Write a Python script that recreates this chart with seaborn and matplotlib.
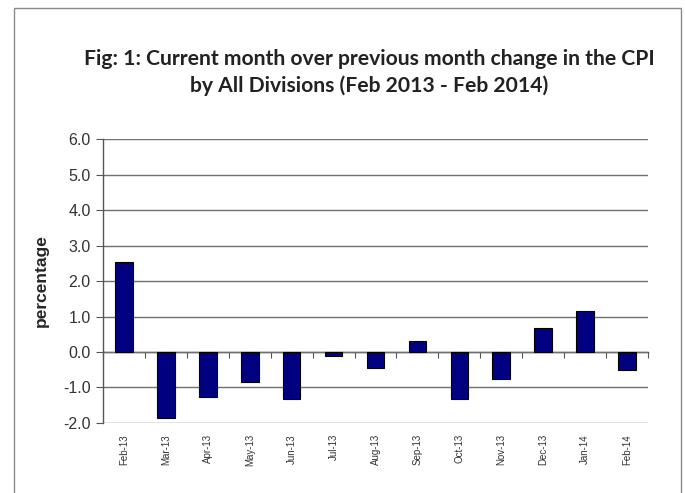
import matplotlib
matplotlib.use("Agg")
import matplotlib.pyplot as plt
import seaborn as sns
import pandas as pd
import numpy as np
from matplotlib.patches import Rectangle

months = ["Feb-13", "Mar-13", "Apr-13", "May-13", "Jun-13", "Jul-13", "Aug-13",
          "Sep-13", "Oct-13", "Nov-13", "Dec-13", "Jan-14", "Feb-14"]
change = [2.54, -1.85, -1.26, -0.85, -1.31, -0.10, -0.45,
          0.32, -1.31, -0.77, 0.69, 1.16, -0.50]
yticks = [-2.0, -1.0, 0.0, 1.0, 2.0, 3.0, 4.0, 5.0, 6.0]
title = "Fig: 1: Current month over previous month change in the CPI\nby All Divisions (Feb 2013 - Feb 2014)"

df = pd.DataFrame({"month": months, "change": change})

sns.set_style("white")
plt.rcParams["font.family"] = ["Liberation Sans", "DejaVu Sans"]

fig = plt.figure(figsize=(6.85, 4.93), dpi=100)
ax = fig.add_axes([0.1504, 0.142, 0.7956, 0.576])

sns.barplot(data=df, x="month", y="change", ax=ax, color="#000080",
            saturation=1, width=0.42, edgecolor="black", linewidth=0.8)

ax.set_ylim(-2.0, 6.0)
ax.set_xlim(-0.5, len(months) - 0.5)
ax.set_yticks(yticks)
ax.set_yticklabels([f"{v:.1f}" for v in yticks], fontsize=11.5, color="#333333")
ax.yaxis.grid(True, color="#707070", linewidth=1.0)
ax.set_axisbelow(True)
ax.tick_params(axis="y", which="major", length=5, width=0.8, color="#555555",
               direction="out", left=True, pad=4)

ax.set_xticks(range(len(months)))
ax.set_xticklabels(months, rotation=90, fontsize=7, color="#333333")
ax.tick_params(axis="x", length=0, pad=8)
ax.set_xlabel("")
ax.set_ylabel("percentage", fontsize=12.5, fontweight="bold", labelpad=10)

for s in ["top", "right", "bottom"]:
    ax.spines[s].set_visible(False)
ax.spines["left"].set_color("#555555")
ax.spines["left"].set_linewidth(1.0)

# category axis crossing at zero
sec = ax.secondary_xaxis(0.25)
sec.set_xticks(np.arange(-0.5, len(months), 1.0))
sec.set_xticklabels([])
sec.tick_params(axis="x", length=4, width=0.8, color="#555555", direction="out")
sec.spines["bottom"].set_color("#555555")
sec.spines["bottom"].set_linewidth(1.0)

fig.text(0.539, 0.853, title, ha="center", va="center", fontsize=15.2,
         fontweight="bold", family=["Lato", "DejaVu Sans"], color="#222222",
         linespacing=1.42)

fig.patches.append(Rectangle((14 / 685, -0.05), (681 - 14) / 685, 1 - 8 / 493 + 0.05,
                             transform=fig.transFigure, fill=False,
                             edgecolor="#8a8a8a", linewidth=1.0))

fig.savefig("out.png", dpi=100)
